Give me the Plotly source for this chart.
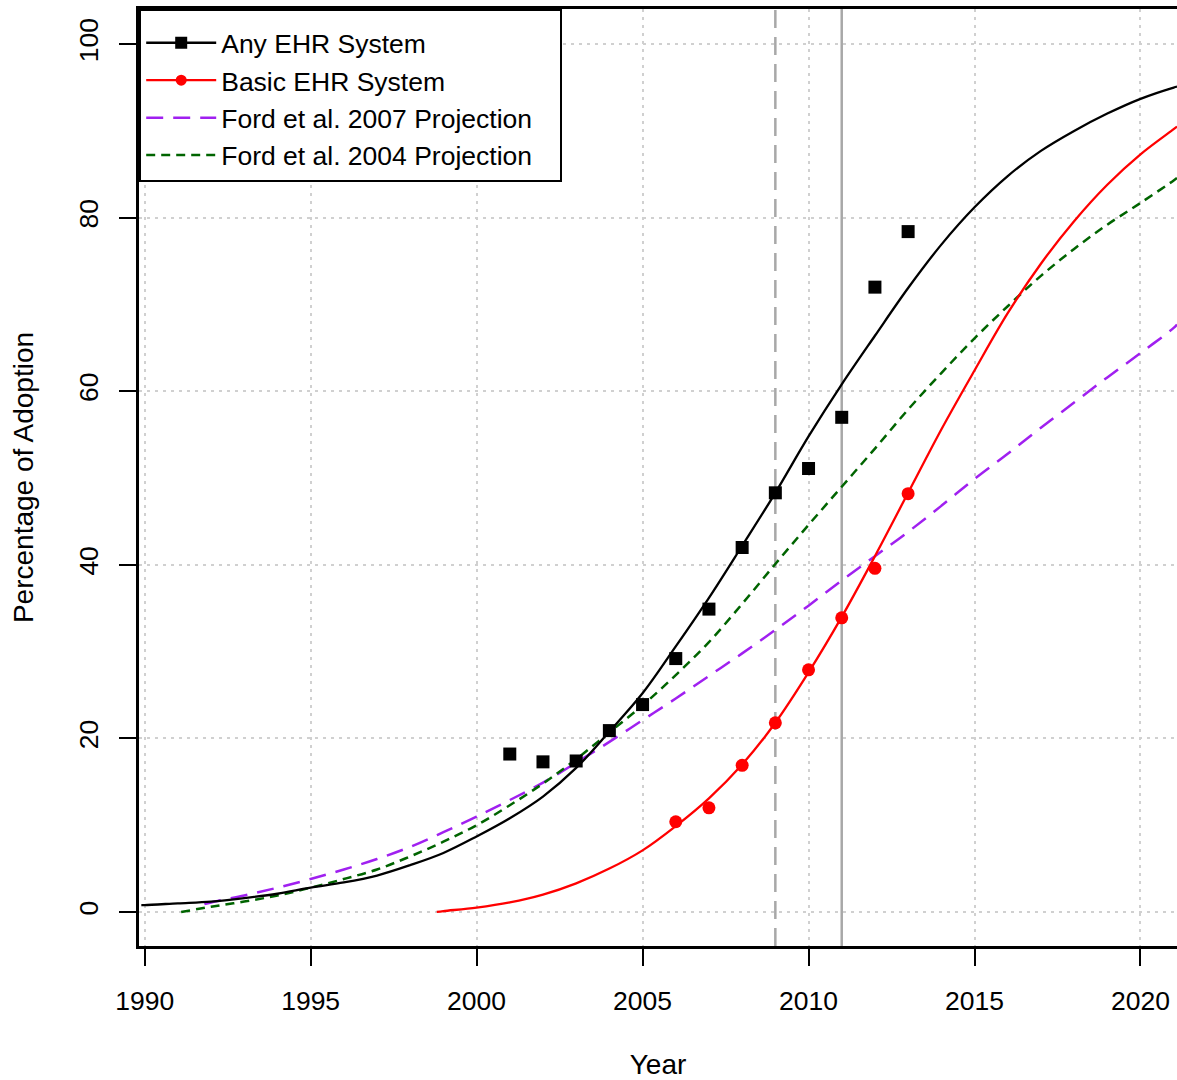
import plotly.graph_objects as go

# ---------------- data ----------------
# Observed survey points
obs_years = [2001, 2002, 2003, 2004, 2005, 2006, 2007, 2008, 2009, 2010, 2011, 2012, 2013]
any_ehr_obs = [18.2, 17.3, 17.4, 20.9, 23.9, 29.2, 34.9, 42.0, 48.3, 51.1, 57.0, 72.0, 78.4]

basic_years = [2006, 2007, 2008, 2009, 2010, 2011, 2012, 2013]
basic_ehr_obs = [10.4, 12.0, 16.9, 21.8, 27.9, 33.9, 39.6, 48.2]

# Fitted curve: Any EHR System
any_fit_years = [1989.9, 1990, 1991, 1992, 1993, 1994, 1995, 1996, 1997, 1998, 1999, 2000,
                 2001, 2002, 2003, 2004, 2005, 2006, 2007, 2008, 2009, 2010, 2011, 2012,
                 2013, 2014, 2015, 2016, 2017, 2018, 2019, 2020, 2021, 2021.1]
any_fit_vals = [0.8, 0.8, 1.0, 1.2, 1.6, 2.1, 2.8, 3.4, 4.2, 5.4, 6.8, 8.7,
                10.8, 13.3, 16.6, 20.8, 25.2, 30.6, 36.2, 42.2, 48.3, 54.8, 60.8, 66.4,
                71.9, 76.9, 81.2, 84.8, 87.7, 90.0, 92.0, 93.7, 95.0, 95.1]

# Fitted curve: Basic EHR System
basic_fit_years = [1998.8, 1999, 2000, 2001, 2002, 2003, 2004, 2005, 2006, 2007, 2008,
                   2009, 2010, 2011, 2012, 2013, 2014, 2015, 2016, 2017, 2018, 2019,
                   2020, 2021, 2021.1]
basic_fit_vals = [0.0, 0.1, 0.5, 1.1, 2.0, 3.3, 5.0, 7.1, 9.9, 13.1, 17.0,
                  21.8, 27.6, 34.0, 41.0, 48.3, 55.6, 62.4, 69.0, 74.7, 79.6, 83.8,
                  87.3, 90.2, 90.5]

# Ford et al. 2007 projection
ford07_years = [1991.8, 1992, 1993, 1994, 1995, 1996, 1997, 1998, 1999, 2000, 2001, 2002,
                2003, 2004, 2005, 2006, 2007, 2008, 2009, 2010, 2011, 2012, 2013, 2014,
                2015, 2016, 2017, 2018, 2019, 2020, 2021, 2021.1]
ford07_vals = [0.9, 1.1, 1.9, 2.8, 3.8, 4.9, 6.1, 7.5, 9.2, 11.0, 12.9, 14.9,
               17.2, 19.6, 22.1, 24.6, 27.2, 29.8, 32.5, 35.3, 38.2, 41.0, 43.8, 46.8,
               49.9, 52.8, 55.8, 58.7, 61.6, 64.4, 67.3, 67.7]

# Ford et al. 2004 projection
ford04_years = [1991.1, 1992, 1993, 1994, 1995, 1996, 1997, 1998, 1999, 2000, 2001, 2002,
                2003, 2004, 2005, 2006, 2007, 2008, 2009, 2010, 2011, 2012, 2013, 2014,
                2015, 2016, 2017, 2018, 2019, 2020, 2021, 2021.1]
ford04_vals = [0.0, 0.6, 1.2, 1.9, 2.8, 3.8, 4.9, 6.4, 8.1, 10.0, 12.3, 14.8,
               17.6, 20.7, 23.8, 27.3, 31.1, 35.5, 40.1, 44.6, 49.0, 53.4, 57.9, 62.1,
               66.1, 69.8, 73.3, 76.4, 79.2, 81.7, 84.3, 84.6]

policy_years = [2009, 2011]  # dashed, solid reference lines

x_ticks = [1990, 1995, 2000, 2005, 2010, 2015, 2020]
y_ticks = [0, 20, 40, 60, 80, 100]

legend_names = ["Any EHR System", "Basic EHR System",
                "Ford et al. 2007 Projection", "Ford et al. 2004 Projection"]

# ---------------- figure ----------------
FONT = "Liberation Sans, Arial, sans-serif"
BLACK = "#000000"
RED = "#ff0000"
PURPLE = "#a020f0"
GREEN = "#006400"
GRAY = "#a8a8a8"
PAD = "\u00a0" * 3  # widen the legend box a little

fig = go.Figure()

# curves
fig.add_trace(go.Scatter(x=ford07_years, y=ford07_vals, mode="lines", showlegend=False,
                         line=dict(color=PURPLE, width=2.5, dash="17px,10px", shape="spline")))
fig.add_trace(go.Scatter(x=ford04_years, y=ford04_vals, mode="lines", showlegend=False,
                         line=dict(color=GREEN, width=2.5, dash="9px,6px", shape="spline")))
fig.add_trace(go.Scatter(x=any_fit_years, y=any_fit_vals, mode="lines", showlegend=False,
                         line=dict(color=BLACK, width=2.3, shape="spline")))
fig.add_trace(go.Scatter(x=basic_fit_years, y=basic_fit_vals, mode="lines", showlegend=False,
                         line=dict(color=RED, width=2.3, shape="spline")))

# observed points
fig.add_trace(go.Scatter(x=obs_years, y=any_ehr_obs, mode="markers", showlegend=False,
                         marker=dict(symbol="square", size=13, color=BLACK)))
fig.add_trace(go.Scatter(x=basic_years, y=basic_ehr_obs, mode="markers", showlegend=False,
                         marker=dict(symbol="circle", size=13, color=RED)))

# legend entries
fig.add_trace(go.Scatter(x=[None], y=[None], mode="lines+markers", name=legend_names[0],
                         line=dict(color=BLACK, width=2.3),
                         marker=dict(symbol="square", size=12, color=BLACK)))
fig.add_trace(go.Scatter(x=[None], y=[None], mode="lines+markers", name=legend_names[1],
                         line=dict(color=RED, width=2.3),
                         marker=dict(symbol="circle", size=11, color=RED)))
fig.add_trace(go.Scatter(x=[None], y=[None], mode="lines", name=legend_names[2] + PAD,
                         line=dict(color=PURPLE, width=2.5, dash="17px,10px")))
fig.add_trace(go.Scatter(x=[None], y=[None], mode="lines", name=legend_names[3],
                         line=dict(color=GREEN, width=2.5, dash="9px,6px")))

fig.add_vline(x=policy_years[0], line=dict(color=GRAY, width=2.5, dash="18px,9px"), layer="below")
fig.add_vline(x=policy_years[1], line=dict(color=GRAY, width=2.5), layer="below")

axis_common = dict(
    showline=True, linecolor=BLACK, linewidth=2.5,
    ticks="outside", ticklen=17, tickwidth=1.5, tickcolor=BLACK,
    showgrid=True, gridcolor="#d0d0d0", griddash="3px,5px", gridwidth=2,
    zeroline=False, tickfont=dict(family=FONT, size=26.5, color=BLACK),
)

fig.update_layout(
    width=1177, height=1080,
    margin=dict(l=139, r=0, t=9, b=134),
    paper_bgcolor="white", plot_bgcolor="white",
    font=dict(family=FONT, size=26, color=BLACK),
    xaxis=dict(range=[1989.83, 2021.1], tickvals=x_ticks, mirror=True,
               ticklabelstandoff=12,
               title=dict(text="Year", font=dict(family=FONT, size=28), standoff=44),
               **axis_common),
    yaxis=dict(range=[-3.92, 104.05], tickvals=y_ticks, tickangle=-90,
               ticklabelstandoff=11,
               title=dict(text="Percentage of Adoption", font=dict(family=FONT, size=28), standoff=32),
               **axis_common),
    legend=dict(x=0, y=1, xanchor="left", yanchor="top", bgcolor="white",
                bordercolor=BLACK, borderwidth=2.2,
                font=dict(family=FONT, size=26.5, color=BLACK),
                title=dict(text=" ", font=dict(size=6)),
                itemwidth=70, tracegroupgap=0),
)

fig.write_html("out.html", config={"displayModeBar": False},
               post_script="document.body.style.margin='0px';")
